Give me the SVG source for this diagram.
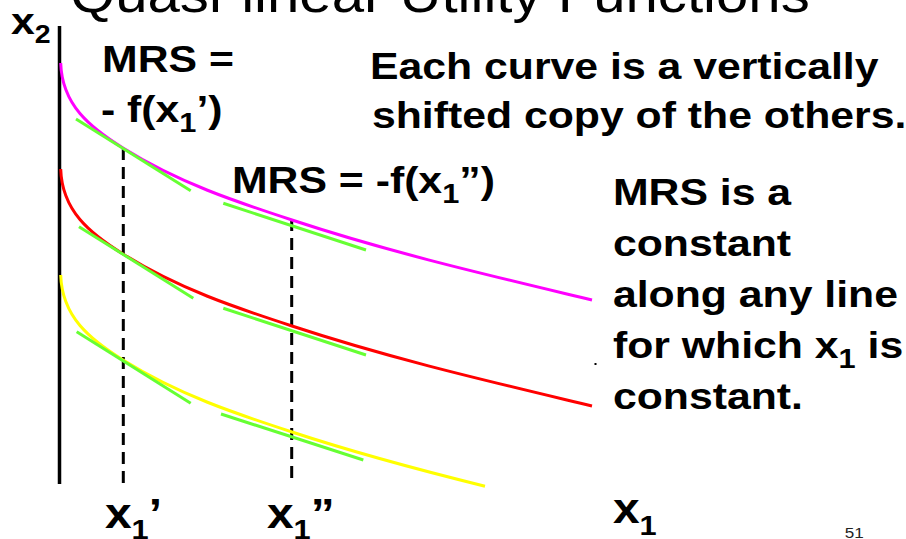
<svg xmlns="http://www.w3.org/2000/svg" width="906" height="539" viewBox="0 0 906 539">
<style>
  text { font-family: "Liberation Sans", Arial, sans-serif; fill: #000; }
  .b { font-weight: bold; font-size: 37.5px; }
  .sub { font-size: 27px; }
  .ax { font-weight: bold; font-size: 42px; }
  .axsub { font-size: 27px; }
  .title { font-size: 51px; }
  .pg { font-size: 15px; fill: #222; }
  .curve { fill: none; stroke-width: 3; }
  .tan { stroke: #66FF33; stroke-width: 3; fill: none; }
  .dash { stroke: #000; stroke-width: 3; stroke-dasharray: 12 7; fill: none; }
</style>
<rect width="906" height="539" fill="#fff"/>

<g id="axis">
  <line x1="59.5" y1="26" x2="59.5" y2="484" stroke="#000" stroke-width="3.5"/>
</g>

<g id="guides">
  <line class="dash" x1="123.3" y1="148" x2="123.3" y2="485"/>
  <line class="dash" x1="291.7" y1="219" x2="291.7" y2="485"/>
</g>

<g id="curves">
  <path id="curve-magenta" class="curve" stroke="#FF00FF" d="M60.7,63 C62,105 90,127.4 123,148 C179,183 236,201.7 292,220 C392,253 492,276 592,300"/>
  <path id="curve-red" class="curve" stroke="#FF0000" d="M60.7,169 C62,211 90,233.4 123,254 C179,289 236,307.7 292,326 C392,359 492,382 592,406"/>
  <path id="curve-yellow" class="curve" stroke="#FFFF00" d="M60.7,275 C62,317 90,339.4 123,360 C179,395 236,413.7 292,432 C356.3,453.2 420.7,470.3 485,486.2"/>
</g>

<g id="tangents">
  <line class="tan" x1="76" y1="119" x2="190.7" y2="190.7"/>
  <line class="tan" x1="223.3" y1="203.3" x2="366" y2="250"/>
  <line class="tan" x1="79" y1="226.7" x2="193.3" y2="298.3"/>
  <line class="tan" x1="223.3" y1="308.3" x2="366" y2="355"/>
  <line class="tan" x1="76.7" y1="331.7" x2="190.7" y2="403.3"/>
  <line class="tan" x1="221" y1="414" x2="363.3" y2="460"/>
</g>

<rect id="dot" x="594.5" y="363" width="2" height="2" fill="#000"/>

<g id="labels" transform="scale(1.14,1)">
  <text id="title" class="title" x="61.4" y="12">Quasi-linear Utility Functions</text>
  <text id="x2-label" class="b" x="9.6" y="34">x<tspan font-size="25" dy="9">2</tspan></text>
  <g id="mrs-left">
    <text class="b" x="89.5" y="72">MRS =</text>
    <text class="b" x="88.6" y="122">- f(x<tspan class="sub" dy="10">1</tspan><tspan dy="-10">’)</tspan></text>
  </g>
  <g id="note-shift">
    <text class="b" x="324.6" y="79">Each curve is a vertically</text>
    <text class="b" x="326.3" y="128">shifted copy of the others.</text>
  </g>
  <g id="mrs-mid">
    <text class="b" x="203.5" y="193">MRS = -f(x<tspan class="sub" dy="10">1</tspan><tspan dy="-10">”)</tspan></text>
  </g>
  <g id="note-constant">
    <text class="b" x="537.7" y="205">MRS is a</text>
    <text class="b" x="537.7" y="256">constant</text>
    <text class="b" x="537.7" y="307">along any line</text>
    <text class="b" x="537.7" y="358">for which x<tspan class="sub" dy="10">1</tspan><tspan dy="-10"> is</tspan></text>
    <text class="b" x="537.7" y="409">constant.</text>
  </g>
  <text id="x1p-label" class="ax" x="92.1" y="528">x<tspan class="axsub" dy="11">1</tspan><tspan dy="-11">’</tspan></text>
  <text id="x1pp-label" class="ax" x="234.2" y="528">x<tspan class="axsub" dy="11">1</tspan><tspan dy="-11">”</tspan></text>
  <text id="x1-label" class="ax" x="537.7" y="523">x<tspan class="axsub" dy="12">1</tspan></text>
  <text id="page" class="pg" x="741" y="538">51</text>
</g>
</svg>
